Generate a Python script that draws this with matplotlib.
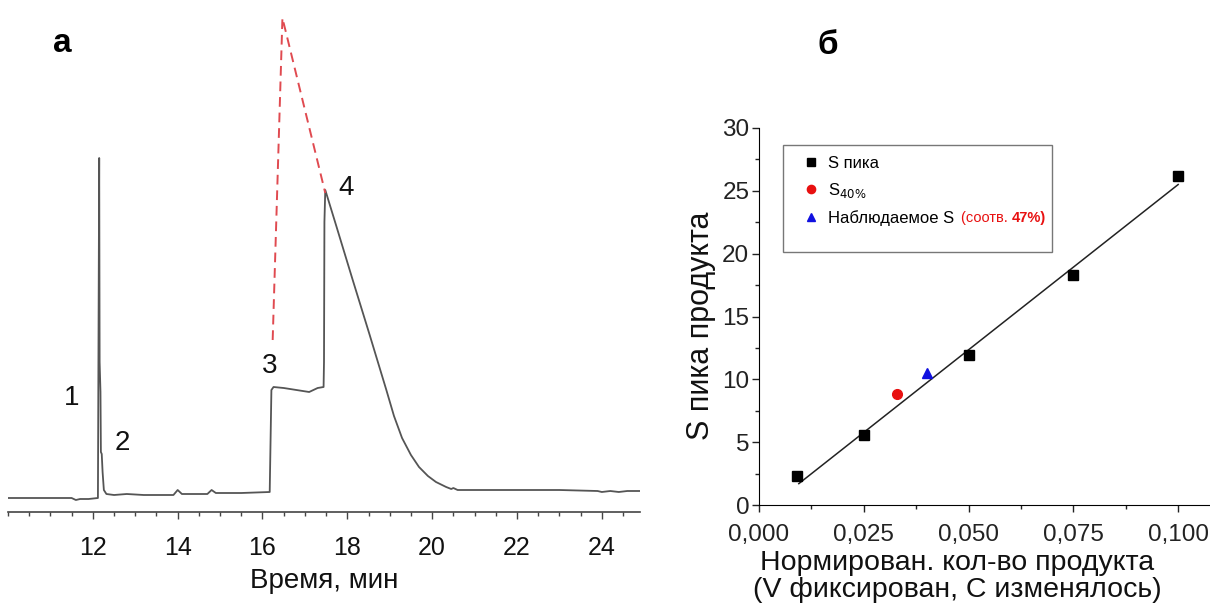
import matplotlib
matplotlib.use("Agg")
import matplotlib.pyplot as plt
from matplotlib.ticker import FixedLocator, MultipleLocator
from matplotlib.patches import Rectangle

plt.rcParams['font.family'] = ['Liberation Sans', 'DejaVu Sans']

# ---- Panel a: chromatogram (time in min, signal in arbitrary units) ----
chrom_t = [10.0, 10.8, 11.5, 11.6, 11.7, 11.9, 12.12, 12.15, 12.16, 12.18, 12.19,
           12.21, 12.23, 12.26, 12.32, 12.5, 12.8, 13.2, 13.9, 14.0, 14.1, 14.2,
           14.7, 14.8, 14.9, 15.5, 16.17, 16.21, 16.26, 16.5, 16.8, 17.1, 17.3,
           17.44, 17.45, 17.46, 17.48, 17.74, 18.12, 18.52, 18.92, 19.1, 19.29,
           19.5, 19.69, 19.9, 20.09, 20.33, 20.45, 20.5, 20.6, 21.1, 22.0, 23.0,
           23.9, 24.0, 24.2, 24.4, 24.6, 24.9]
chrom_s = [14, 14, 14, 12, 13, 13, 14, 354, 150, 120, 60,
           58, 40, 22, 18, 17, 18, 17, 17, 22, 18, 18,
           18, 22, 19, 19, 20, 122, 125, 124, 122, 120, 124,
           125, 150, 290, 322, 286, 233, 178, 122, 96, 74,
           57, 45, 36, 30, 25, 23, 24, 22, 22, 22, 22,
           21, 20, 21, 20, 21, 21]
dash_t = [16.24, 16.47, 17.48]
dash_s = [172, 494, 319]
peak_labels = ['1', '2', '3', '4']
peak_label_t = [11.5, 12.7, 16.16, 17.98]
peak_label_s = [114, 69, 146, 324]
time_ticks = [12, 14, 16, 18, 20, 22, 24]

# ---- Panel б: calibration ----
cal_x = [0.009, 0.025, 0.050, 0.075, 0.100]
cal_y = [2.3, 5.6, 11.9, 18.3, 26.2]
s40_x = [0.033]
s40_y = [8.8]
obs_x = [0.040]
obs_y = [10.5]
fit_x = [0.0095, 0.100]
fit_y = [1.7, 25.5]
cal_xticks = [0.000, 0.025, 0.050, 0.075, 0.100]
cal_xticklabels = ['0,000', '0,025', '0,050', '0,075', '0,100']
cal_yticks = [0, 5, 10, 15, 20, 25, 30]

fig = plt.figure(figsize=(12.10, 6.08), dpi=100)

# Panel a
ax1 = fig.add_axes([8 / 1210, 1 - 512 / 608, 632 / 1210, 512 / 608])
ax1.plot(chrom_t, chrom_s, color='#555555', lw=1.3)
ax1.plot(dash_t, dash_s, color='#e04a50', lw=1.4, dashes=(5, 3))
ax1.set_xlim(10.0, 24.9)
ax1.set_ylim(0, 512)
for sp in ['top', 'right', 'left']:
    ax1.spines[sp].set_visible(False)
ax1.spines['bottom'].set_color('#444444')
ax1.spines['bottom'].set_linewidth(1.2)
ax1.set_yticks([])
ax1.xaxis.set_major_locator(FixedLocator(time_ticks))
ax1.xaxis.set_minor_locator(MultipleLocator(0.5))
ax1.tick_params(axis='x', which='major', direction='out', length=5, width=1,
                colors='#444444', labelsize=18, labelcolor='#111111', pad=12)
ax1.tick_params(axis='x', which='minor', direction='out', length=3, width=1,
                colors='#444444')
ax1.set_xlabel('Время, мин', fontsize=20, color='#111111', labelpad=6)
for lab, t, s in zip(peak_labels, peak_label_t, peak_label_s):
    ax1.text(t, s, lab, fontsize=20, ha='center', va='center', color='#111111')
fig.text(62 / 1210, 1 - 43 / 608, 'а', fontsize=24, fontweight='bold',
         ha='center', va='center')

# Panel б
ax2 = fig.add_axes([759 / 1210, 1 - 505 / 608, 451 / 1210, 377 / 608])
ax2.plot(fit_x, fit_y, color='#222222', lw=1.1, zorder=2)
ax2.plot(cal_x, cal_y, ls='none', marker='s', ms=6.5, color='black',
         label='S пика', zorder=3)
ax2.plot(s40_x, s40_y, ls='none', marker='o', ms=7, color='#e81010',
         label='S$_{40\\%}$', zorder=3)
ax2.plot(obs_x, obs_y, ls='none', marker='^', ms=7.5, color='#1010e0',
         label='Наблюдаемое S', zorder=3)
ax2.set_xlim(0, 0.1076)
ax2.set_ylim(0, 30)
ax2.spines['top'].set_visible(False)
ax2.spines['right'].set_visible(False)
ax2.set_xticks(cal_xticks)
ax2.set_xticklabels(cal_xticklabels)
ax2.set_yticks(cal_yticks)
ax2.xaxis.set_minor_locator(MultipleLocator(0.0125))
ax2.yaxis.set_minor_locator(MultipleLocator(2.5))
ax2.tick_params(which='major', direction='out', length=5, width=1,
                labelsize=17.5, colors='#222222', labelcolor='#222222')
ax2.tick_params(which='minor', direction='out', length=3, width=1,
                colors='#222222')
ax2.tick_params(axis='x', which='major', pad=9)
ax2.tick_params(axis='y', which='major', pad=2)
ax2.set_ylabel('S пика продукта', fontsize=22, color='#111111')
ax2.yaxis.set_label_coords(-0.095, 0.475)
ax2.set_xlabel('Нормирован. кол-во продукта\n(V фиксирован, С изменялось)',
               fontsize=20.5, color='#111111', linespacing=1.05, va='top')
ax2.xaxis.set_label_coords(0.44, -0.12)

# legend frame (box drawn in data coordinates)
ax2.add_patch(Rectangle((0.0058, 20.16), 0.0642, 8.45, fill=False,
                        edgecolor='#777777', lw=1.0, zorder=1))
leg = ax2.legend(loc='upper left', bbox_to_anchor=(0.0103, 27.8),
                 bbox_transform=ax2.transData, fontsize=12, frameon=False,
                 borderpad=0.0, handlelength=1.0, handletextpad=0.55,
                 labelspacing=0.62, borderaxespad=0.0, markerscale=0.85)
txt = leg.get_texts()[2]
red1 = ax2.annotate('(соотв. ', xy=(1, 0), xycoords=txt, xytext=(5, 0.5),
                    textcoords='offset points', fontsize=10.5, color='#e81010',
                    va='bottom', ha='left', zorder=7)
ax2.annotate('47%)', xy=(1, 0), xycoords=red1, xytext=(0, 0),
             textcoords='offset points', fontsize=10.5, color='#e81010',
             fontweight='bold', va='bottom', ha='left', zorder=8)
fig.text(828 / 1210, 1 - 45 / 608, 'б', fontsize=24, fontweight='bold',
         ha='center', va='center')

fig.savefig('out.png', dpi=100)
